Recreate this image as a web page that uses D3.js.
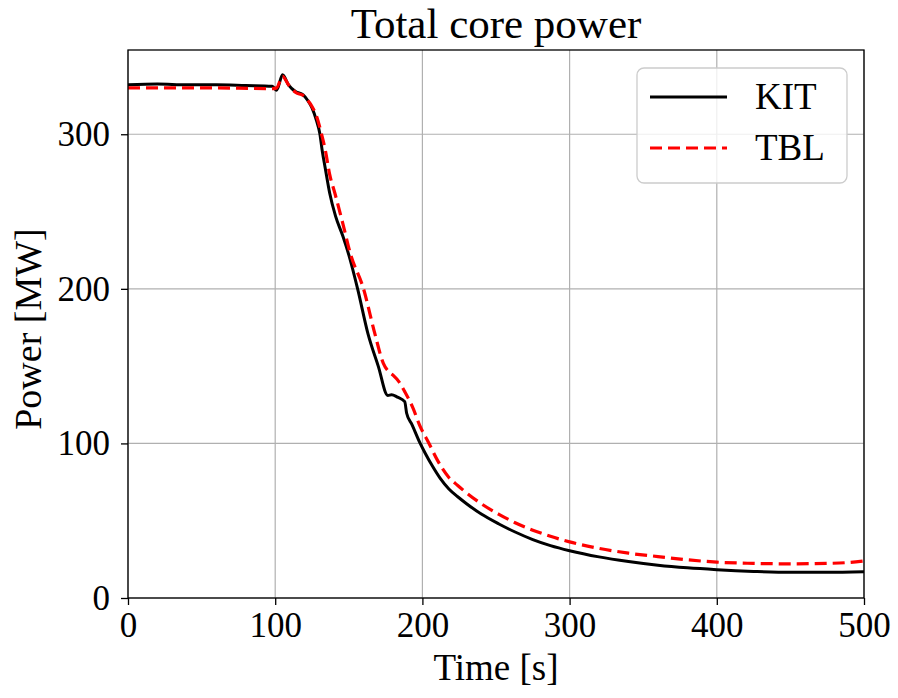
<!DOCTYPE html>
<html>
<head>
<meta charset="utf-8">
<script src="https://cdn.jsdelivr.net/npm/d3@7"></script>
<style>
  html, body { margin: 0; padding: 0; background: #ffffff; }
  svg { display: block; }
  text { font-family: "Liberation Serif", "DejaVu Serif", serif; fill: #000; }
</style>
</head>
<body>
<svg id="chart" width="898" height="698"></svg>
<script>
// Total core power over time, two codes
const chartTitle = "Total core power";
const xLabel = "Time [s]";
const yLabel = "Power [MW]";
const xTicks = [0, 100, 200, 300, 400, 500];
const yTicks = [0, 100, 200, 300];
const seriesNames = ["KIT", "TBL"];

const kitTime  = [0, 20, 40, 60, 80, 98, 101, 105, 109, 114, 119, 122, 125, 128, 130.3, 132, 134, 137, 141, 146, 150, 156, 163, 170, 176.5, 179, 183, 188, 189.3, 193, 198.5, 202, 207, 212, 218, 224, 230, 240, 252, 263, 275, 287, 300, 320, 340, 360, 380, 400, 425, 450, 475, 500];
const kitPower = [332, 332.5, 332, 332, 331.5, 331, 328.5, 338.5, 332, 327.5, 325.5, 322, 317, 309, 300.5, 289, 278, 262, 247, 234, 222, 200, 171, 150, 131, 131.5, 130, 127, 119.5, 112, 100, 93.5, 85, 77.5, 70.5, 65.5, 61, 54.3, 47.9, 42.7, 37.8, 33.9, 30.6, 26.6, 23.6, 21.2, 19.5, 18.3, 17.2, 16.6, 16.6, 17];

const tblTime  = [0, 25, 50, 75, 98, 101, 105, 109, 114, 119, 122, 125, 128, 131.5, 134, 137, 140.5, 146, 151, 160, 167.7, 173.4, 177, 180.2, 184, 188, 193.7, 198, 204.5, 210, 218, 224, 230, 240, 252, 263, 275, 287, 300, 320, 340, 360, 380, 400, 425, 450, 475, 490, 500];
const tblPower = [330, 330, 330, 329.8, 329.5, 330, 337.5, 332, 327, 325, 322, 318, 312, 300, 290, 274, 262, 242, 223, 200, 171, 152, 146.5, 144, 140, 133.5, 122.7, 112, 100, 89.5, 78, 72.8, 68, 61, 54.1, 48.7, 43.9, 39.9, 36.3, 32.1, 29, 26.8, 24.7, 23.2, 22.4, 22.1, 22.4, 23, 24];

const kitData = kitTime.map((t, i) => ({ t, p: kitPower[i] }));
const tblData = tblTime.map((t, i) => ({ t, p: tblPower[i] }));

const svg = d3.select("#chart");
const plot = { left: 128, right: 864, top: 50, bottom: 598 };

const x = d3.scaleLinear().domain([0, 500]).range([plot.left, plot.right]);
const y = d3.scaleLinear().domain([0, 354.5]).range([plot.bottom, plot.top]);

// grid
const grid = svg.append("g").attr("stroke", "#b0b0b0").attr("stroke-width", 1.2);
grid.selectAll("line.gx").data(xTicks).join("line")
  .attr("x1", d => x(d)).attr("x2", d => x(d))
  .attr("y1", plot.top).attr("y2", plot.bottom);
grid.selectAll("line.gy").data(yTicks).join("line")
  .attr("x1", plot.left).attr("x2", plot.right)
  .attr("y1", d => y(d)).attr("y2", d => y(d));

// series
const line = d3.line().x(d => x(d.t)).y(d => y(d.p)).curve(d3.curveMonotoneX);
svg.append("clipPath").attr("id", "plotclip").append("rect")
  .attr("x", plot.left).attr("y", plot.top)
  .attr("width", plot.right - plot.left).attr("height", plot.bottom - plot.top);
const series = svg.append("g").attr("clip-path", "url(#plotclip)");
series.append("path").datum(kitData)
  .attr("d", line).attr("fill", "none")
  .attr("stroke", "#000000").attr("stroke-width", 3)
  .attr("stroke-linejoin", "round");
series.append("path").datum(tblData)
  .attr("d", line).attr("fill", "none")
  .attr("stroke", "#ff0000").attr("stroke-width", 3.2)
  .attr("stroke-dasharray", "12,6");

// frame
svg.append("rect")
  .attr("x", plot.left).attr("y", plot.top)
  .attr("width", plot.right - plot.left).attr("height", plot.bottom - plot.top)
  .attr("fill", "none").attr("stroke", "#000").attr("stroke-width", 1.3);

// axes
const xAxis = svg.append("g").attr("transform", `translate(0,${plot.bottom})`)
  .call(d3.axisBottom(x).tickValues(xTicks).tickSize(7).tickPadding(7).tickFormat(d3.format("d")));
const yAxis = svg.append("g").attr("transform", `translate(${plot.left},0)`)
  .call(d3.axisLeft(y).tickValues(yTicks).tickSize(7).tickPadding(11).tickFormat(d3.format("d")));
[xAxis, yAxis].forEach(a => {
  a.select(".domain").remove();
  a.selectAll(".tick line").attr("stroke", "#000").attr("stroke-width", 1.3);
  a.selectAll(".tick text").attr("font-family", "Liberation Serif, serif")
    .attr("font-size", 35).attr("fill", "#000");
});

// title and axis labels
svg.append("text").attr("x", (plot.left + plot.right) / 2).attr("y", 38)
  .attr("text-anchor", "middle").attr("font-size", 43).text(chartTitle);
svg.append("text").attr("x", (plot.left + plot.right) / 2).attr("y", 680)
  .attr("text-anchor", "middle").attr("font-size", 37).text(xLabel);
svg.append("text")
  .attr("transform", `translate(41,${(plot.top + plot.bottom) / 2 + 5}) rotate(-90)`)
  .attr("text-anchor", "middle").attr("font-size", 38).text(yLabel);

// legend
const legend = svg.append("g");
legend.append("rect")
  .attr("x", 637).attr("y", 68).attr("width", 210).attr("height", 115).attr("rx", 7)
  .attr("fill", "#ffffff").attr("fill-opacity", 0.8)
  .attr("stroke", "#cccccc").attr("stroke-width", 1.3);
const legendRows = [
  { name: seriesNames[0], color: "#000000", dash: null, y: 97 },
  { name: seriesNames[1], color: "#ff0000", dash: "12,6", y: 148 }
];
legendRows.forEach(r => {
  legend.append("line")
    .attr("x1", 650).attr("x2", 727).attr("y1", r.y).attr("y2", r.y)
    .attr("stroke", r.color).attr("stroke-width", 3.2)
    .attr("stroke-dasharray", r.dash);
  legend.append("text").attr("x", 755).attr("y", r.y + 12)
    .attr("font-size", 37).text(r.name);
});
</script>
</body>
</html>
